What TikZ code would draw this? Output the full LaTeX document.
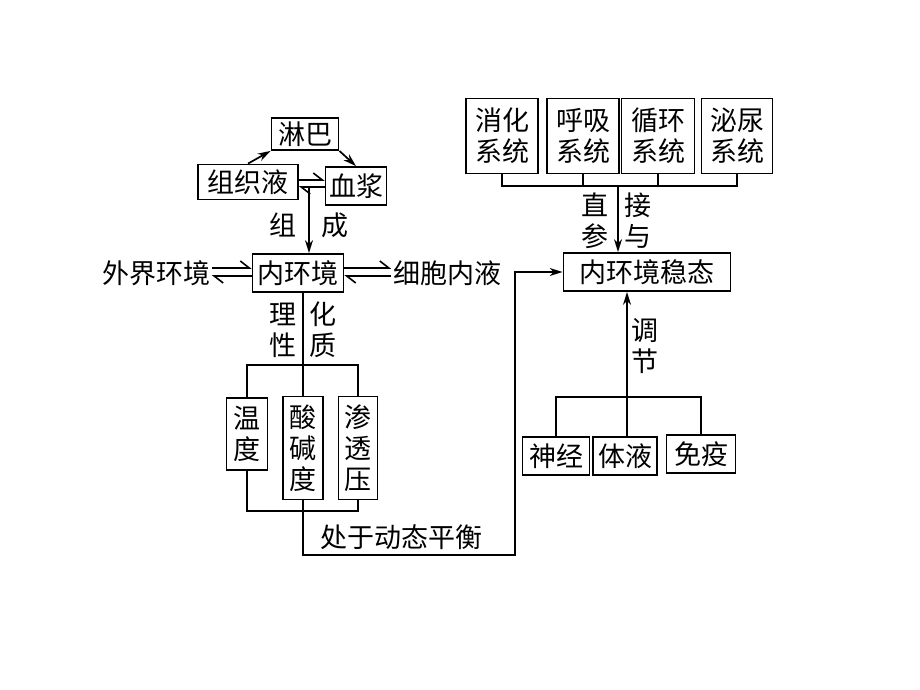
\documentclass[tikz,border=0pt]{standalone}
\usepackage{fontspec}
\setmainfont{Noto Sans CJK SC}
\usetikzlibrary{arrows.meta, positioning, calc}

\begin{document}
\begin{tikzpicture}[x=1pt, y=-1pt, font=\fontsize{27}{31}\selectfont, box/.style={draw, line width=1.8pt, inner sep=2pt, align=center}, txt/.style={inner sep=1pt, align=center}, har/.style={-{Straight Barb[harpoon, length=9pt, width=14pt, line width=1.6pt]}}, >={Stealth[length=13pt, width=8pt]}, line width=1.7pt]
        \useasboundingbox (0,0) rectangle (920,690);
        % body fluids
        \node[box, minimum width=67, minimum height=32] (lin) at (305,134) {淋巴};
        \node[box, minimum width=100, minimum height=35] (zzy) at (248,182) {组织液};
        \node[box, minimum width=61, minimum height=38] (xj) at (356,186) {血浆};
        \node[box, minimum width=91, minimum height=38] (nhj) at (298,273) {内环境};
        \node[txt] (wj) at (156,273) {外界环境};
        \node[txt] (xbn) at (447,273) {细胞内液};
        \draw[->] (zzy.north) -- (lin.south west);
        \draw[->] (lin.south east) -- (xj.north);
        \draw[har] ($(zzy.east)+(0,-2)$) -- ($(xj.west)+(0,-6)$);
        \draw[har] ($(xj.west)+(0,1)$) -- ($(zzy.east)+(0,5)$);
        \coordinate (zc) at (309,187);
        \draw[->] (zc) -- (zc |- nhj.north);
        \node[txt] at (283,225) {组};
        \node[txt] at (335,225) {成};
        \draw[har] ($(wj.east)+(0,-5)$) -- ($(nhj.west)+(0,-5)$);
        \draw[har] ($(nhj.west)+(0,3)$) -- ($(wj.east)+(0,3)$);
        \draw[har] ($(nhj.east)+(0,-5)$) -- ($(xbn.west)+(0,-5)$);
        \draw[har] ($(xbn.west)+(0,3)$) -- ($(nhj.east)+(0,3)$);
        % properties
        \node[box, minimum width=41, minimum height=72] (wd) at (247,434) {温\\度};
        \node[box, minimum width=40, minimum height=103] (sjd) at (303,448) {酸\\碱\\度};
        \node[box, minimum width=39, minimum height=103] (stj) at (358,448) {渗\\透\\压};
        \node[txt] at (283,330) {理\\性};
        \node[txt] at (323,330) {化\\质};
        \coordinate (lx) at (303,365);
        \draw (lx |- nhj.south) -- (lx);
        \draw (wd.north) |- (lx) -| (stj.north);
        \draw (lx) -- (sjd.north);
        \coordinate (by) at (303,511);
        \draw (wd.south) |- (by) -| (stj.south);
        \node[txt] (cl) at (401,537) {处于动态平衡};
        % homeostasis
        \node[box, minimum width=167, minimum height=38] (wt) at (647,272) {内环境稳态};
        \coordinate (rt) at (515,555);
        \draw[->] (sjd.south) |- (rt) |- (wt.west);
        \node[box, minimum width=72, minimum height=75] (xh) at (502,136) {消化\\系统};
        \node[box, minimum width=72, minimum height=75] (hx) at (583,136) {呼吸\\系统};
        \node[box, minimum width=73, minimum height=75] (xhs) at (658,136) {循环\\系统};
        \node[box, minimum width=71, minimum height=75] (mn) at (737,136) {泌尿\\系统};
        \coordinate (tj) at (618,186);
        \draw (xh.south) |- (tj) -| (mn.south);
        \draw (hx.south) -- (hx.south |- tj);
        \draw (xhs.south) -- (xhs.south |- tj);
        \draw[->] (tj) -- (tj |- wt.north);
        \node[txt] at (595,221) {直\\参};
        \node[txt] at (638,221) {接\\与};
        % regulation
        \node[box, minimum width=67, minimum height=38] (sj) at (556,456) {神经};
        \node[box, minimum width=64, minimum height=38] (ty) at (625,456) {体液};
        \node[box, minimum width=69, minimum height=38] (my) at (701,454) {免疫};
        \coordinate (tc) at (627,397);
        \draw[->] (tc) -- (tc |- wt.south);
        \draw (sj.north) |- (tc) -| (my.north);
        \draw (tc) -- (tc |- ty.north);
        \node[txt] at (645,346) {调\\节};
\end{tikzpicture}
\end{document}
